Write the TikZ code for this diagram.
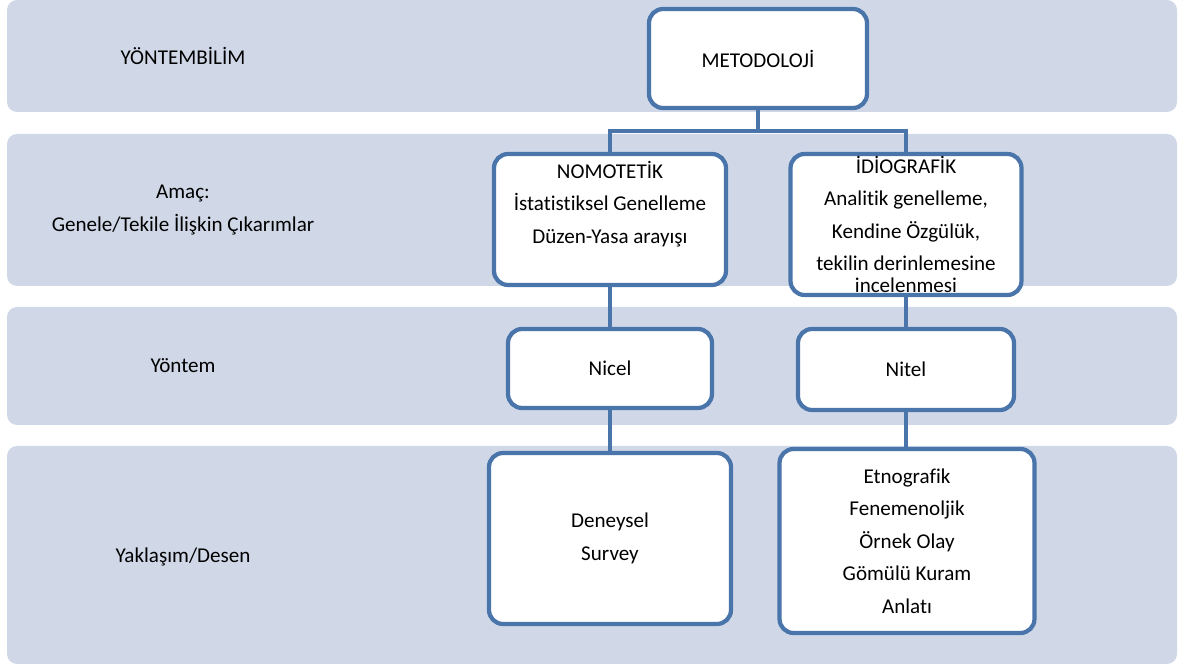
\documentclass[tikz,border=0pt]{standalone}
\usepackage{fontspec}
\setmainfont{Carlito}[RawFeature={-liga;-clig;-calt;-dlig}]
\usetikzlibrary{positioning}

\definecolor{bandgray}{RGB}{208,216,232}
\definecolor{boxblue}{RGB}{74,117,170}

\tikzset{
  band/.style={fill=bandgray, rounded corners=0.2cm},
  box/.style={draw=boxblue, line width=2.4pt, fill=white, rounded corners=0.28cm,
    inner sep=0pt, align=center},
  txt/.style={inner sep=0pt, align=center},
  link/.style={draw=boxblue, line width=2pt}
}

\begin{document}
\begin{tikzpicture}[x=0.02cm, y=-0.02cm, font=\fontsize{12}{18.5}\selectfont]
    \useasboundingbox (0,0) rectangle (1178,665);

    \fill[band] (7,0) rectangle (1177,112);
    \fill[band] (7,134) rectangle (1177,286);
    \fill[band] (7,307) rectangle (1177,425);
    \fill[band] (7,446) rectangle (1177,664);

    \node[txt] (lvl1) at (183,56) {YÖNTEMBİLİM};
    \node[txt] (lvl2) at (183,210) {Amaç:\\Genele/Tekile İlişkin Çıkarımlar};
    \node[txt] (lvl3) at (183,366) {Yöntem};
    \node[txt] (lvl4) at (183,557) {Yaklaşım/Desen};

    \node[box, minimum width=4.36cm, minimum height=1.98cm] (meto) at (758,58.5) {METODOLOJİ};
    \node[box, minimum width=4.64cm, minimum height=2.62cm] (nomo) at (610,219.5) {};
    \node[txt] (nomotxt) at (610,204) {NOMOTETİK\\İstatistiksel Genelleme\\Düzen-Yasa arayışı};
    \node[box, minimum width=4.62cm, minimum height=2.82cm] (idio) at (906,224.5)
        {İDİOGRAFİK\\Analitik genelleme,\\Kendine Özgülük,\\tekilin derinlemesine\\[-6pt]incelenmesi};
    \node[box, minimum width=4.08cm, minimum height=1.58cm] (nicel) at (610,368.5) {Nicel};
    \node[box, minimum width=4.32cm, minimum height=1.62cm] (nitel) at (906,369.5) {Nitel};
    \node[box, minimum width=4.84cm, minimum height=3.42cm] (deney) at (610,538.5) {Deneysel\\Survey};
    \node[box, minimum width=5.10cm, minimum height=3.68cm] (desen) at (907,541)
        {Etnografik\\Fenemenoljik\\Örnek Olay\\Gömülü Kuram\\Anlatı};

    \coordinate (fork) at (758,131);
    \draw[link] (meto.south) -- (fork);
    \draw[link] (nomo.north) |- (fork) -| (idio.north);
    \draw[link] (nomo.south) -- (nicel.north);
    \draw[link] (idio.south) -- (nitel.north);
    \draw[link] (nicel.south) -- (deney.north);
    \draw[link] (nitel.south) -- (nitel.south |- desen.north);
\end{tikzpicture}
\end{document}
